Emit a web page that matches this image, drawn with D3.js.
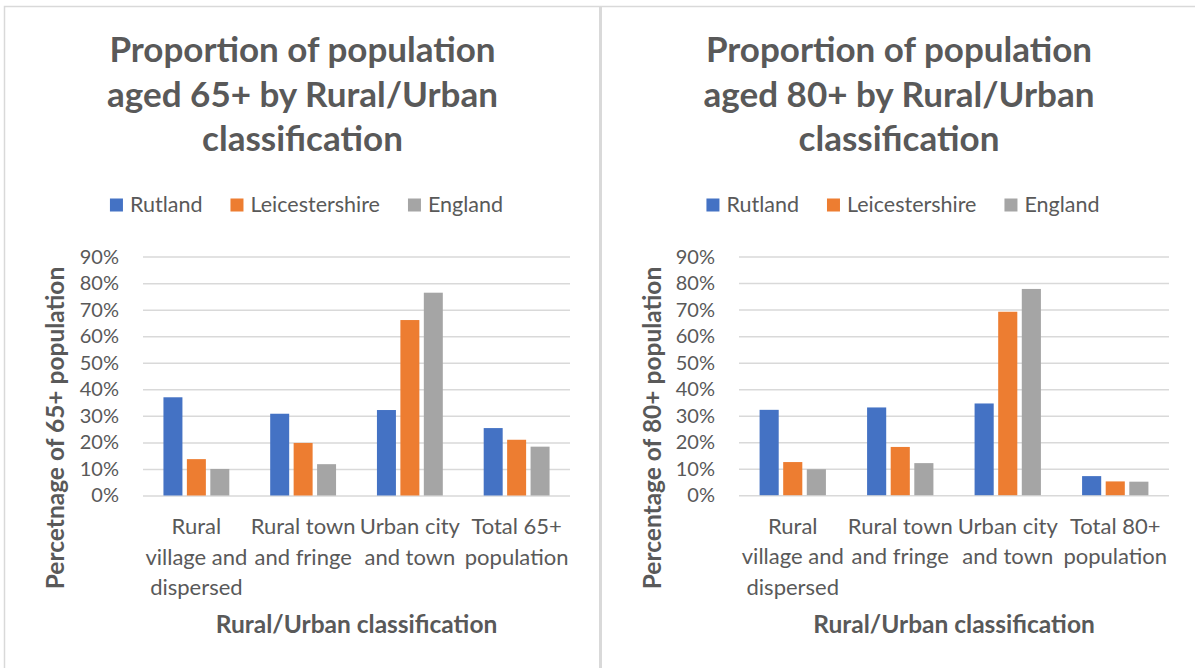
<!DOCTYPE html>
<html>
<head>
<meta charset="utf-8">
<script src="https://cdn.jsdelivr.net/npm/d3@7"></script>
<style>
  body { margin: 0; background: #fff; }
  svg text { font-family: Lato, 'Open Sans', sans-serif; fill: #595959; }
</style>
</head>
<body>
<div class="charts"></div>
<script>
// data
const seriesNames = ['Rutland', 'Leicestershire', 'England'];
const seriesColors = ['#4472C4', '#ED7D31', '#A5A5A5'];

const categories65 = [['Rural', 'village and', 'dispersed'], ['Rural town', 'and fringe'], ['Urban city', 'and town'], ['Total 65+', 'population']];
const categories80 = [['Rural', 'village and', 'dispersed'], ['Rural town', 'and fringe'], ['Urban city', 'and town'], ['Total 80+', 'population']];

const rutland65 = [0.370, 0.308, 0.322, 0.254];
const leicestershire65 = [0.137, 0.198, 0.661, 0.210];
const england65 = [0.100, 0.118, 0.764, 0.184];

const rutland80 = [0.322, 0.331, 0.346, 0.072];
const leicestershire80 = [0.125, 0.182, 0.692, 0.052];
const england80 = [0.098, 0.121, 0.778, 0.051];

const yTicks = [0, 0.1, 0.2, 0.3, 0.4, 0.5, 0.6, 0.7, 0.8, 0.9];

const title65 = ['Proportion of population', 'aged 65+ by Rural/Urban', 'classification'];
const title80 = ['Proportion of population', 'aged 80+ by Rural/Urban', 'classification'];
const yTitle65 = 'Percetnage of 65+ population';
const yTitle80 = 'Percentage of 80+ population';
const xTitle = 'Rural/Urban classification';

//main
const width = 1195;
const height = 668;

const svg = d3.select('.charts')
    .append('svg')
    .attr('width', width)
    .attr('height', height);

// frame lines
svg.append('path')
    .attr('d', `M4.5,${height} V6.5 H${width}`)
    .style('fill', 'none')
    .style('stroke', '#d9d9d9')
    .style('stroke-width', 1.5);
svg.append('line')
    .attr('x1', 600.5).attr('x2', 600.5)
    .attr('y1', 6).attr('y2', height)
    .style('stroke', '#d9d9d9')
    .style('stroke-width', 3);

const drawChart = (cfg) => {
    const g = svg.append('g').attr('class', 'chart');

    const x0 = d3.scaleBand()
        .domain(d3.range(cfg.categories.length))
        .range([cfg.plotLeft, cfg.plotRight])
        .paddingInner(0.383)
        .paddingOuter(0.1915);
    const x1 = d3.scaleBand()
        .domain(seriesNames)
        .range([0, x0.bandwidth()])
        .paddingInner(0.19);
    const y = d3.scaleLinear()
        .domain([0, 0.9])
        .range([cfg.plotBottom, cfg.plotTop]);

    // title
    const title = g.append('text')
        .attr('text-anchor', 'middle')
        .style('font-size', '35px')
        .style('font-weight', 'bold');
    cfg.title.forEach((line, i) => {
        title.append('tspan')
            .attr('x', cfg.center)
            .attr('y', 62 + i * 44.5)
            .text(line);
    });

    // legend
    const legend = g.append('g').attr('class', 'legend');
    const items = legend.selectAll('g')
        .data(seriesNames)
        .enter()
        .append('g');
    items.append('rect')
        .attr('width', 13).attr('height', 13)
        .attr('y', 198.5)
        .style('fill', (d, i) => seriesColors[i]);
    items.append('text')
        .attr('x', 20)
        .attr('y', 211.5)
        .style('font-size', '21.5px')
        .text(d => d);
    let pos = 0;
    const offsets = [];
    items.each(function () {
        offsets.push(pos);
        pos += 20 + d3.select(this).select('text').node().getComputedTextLength() + 28;
    });
    const legendWidth = pos - 28;
    const legendStart = cfg.center + 4 - legendWidth / 2;
    items.attr('transform', (d, i) => `translate(${legendStart + offsets[i]},0)`);

    // y axis with gridlines
    const yAxis = d3.axisLeft(y)
        .tickValues(yTicks)
        .tickFormat(d3.format('.0%'))
        .tickSizeInner(-(cfg.plotRight - cfg.plotLeft))
        .tickSizeOuter(0)
        .tickPadding(24);
    const yAxisDraw = g.append('g')
        .attr('class', 'y-axis')
        .attr('transform', `translate(${cfg.plotLeft},0)`)
        .call(yAxis);
    yAxisDraw.select('.domain').remove();
    yAxisDraw.selectAll('line')
        .style('stroke', '#d9d9d9')
        .style('stroke-width', 1.5);
    yAxisDraw.selectAll('text')
        .style('font-size', '20px')
        .style('font-family', 'Lato, sans-serif')
        .style('fill', '#595959');

    // bars
    const barGroups = g.append('g')
        .attr('class', 'bars')
        .selectAll('g')
        .data(cfg.categories.map((c, i) => i))
        .enter()
        .append('g')
        .attr('transform', i => `translate(${x0(i)},0)`);
    barGroups.selectAll('rect')
        .data(i => seriesNames.map((s, k) => ({ name: s, value: cfg.series[k][i], color: seriesColors[k] })))
        .enter()
        .append('rect')
        .attr('x', d => x1(d.name))
        .attr('width', x1.bandwidth())
        .attr('y', d => y(d.value))
        .attr('height', d => y(0) - y(d.value))
        .style('fill', d => d.color);

    // category labels
    const xAxis = d3.axisBottom(x0).tickSize(0).tickFormat('');
    const xAxisDraw = g.append('g')
        .attr('class', 'x-axis')
        .attr('transform', `translate(0,${cfg.plotBottom})`)
        .call(xAxis);
    xAxisDraw.select('.domain').remove();
    xAxisDraw.selectAll('.tick text').remove();
    xAxisDraw.selectAll('.tick')
        .append('text')
        .attr('text-anchor', 'middle')
        .style('font-size', '22px')
        .each(function (i) {
            const t = d3.select(this);
            cfg.categories[i].forEach((line, j) => {
                t.append('tspan')
                    .attr('x', 0)
                    .attr('y', 31 + j * 30.5)
                    .attr('dy', '0.35em')
                    .text(line);
            });
        });

    // axis titles
    g.append('text')
        .attr('text-anchor', 'middle')
        .attr('x', (cfg.plotLeft + cfg.plotRight) / 2)
        .attr('y', 624)
        .attr('dy', '0.35em')
        .style('font-size', '24.5px')
        .style('font-weight', 'bold')
        .text(xTitle);
    g.append('text')
        .attr('text-anchor', 'middle')
        .attr('transform', `translate(${cfg.yTitleX},428) rotate(-90)`)
        .attr('dy', '0.35em')
        .style('font-size', '24.5px')
        .style('font-weight', 'bold')
        .text(cfg.yTitle);
};

drawChart({
    center: 302.5,
    plotLeft: 143, plotRight: 570, plotTop: 256.6, plotBottom: 495.5,
    yTitleX: 55,
    title: title65,
    yTitle: yTitle65,
    categories: categories65,
    series: [rutland65, leicestershire65, england65]
});
drawChart({
    center: 899,
    plotLeft: 739, plotRight: 1169, plotTop: 256.6, plotBottom: 495.2,
    yTitleX: 652,
    title: title80,
    yTitle: yTitle80,
    categories: categories80,
    series: [rutland80, leicestershire80, england80]
});
</script>
</body>
</html>
